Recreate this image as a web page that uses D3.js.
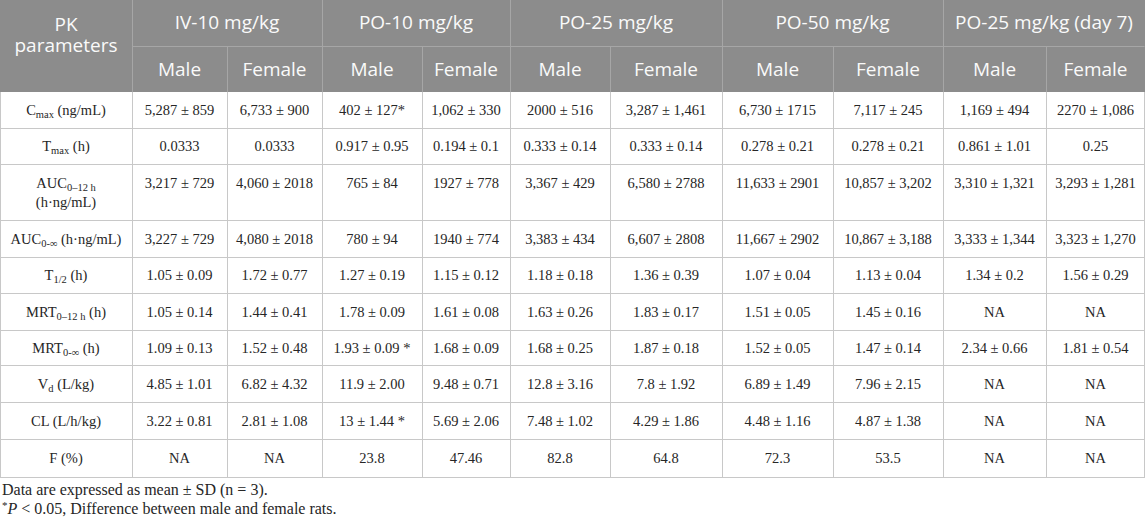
<!DOCTYPE html>
<html>
<head>
<meta charset="utf-8">
<title>PK parameters table</title>
<script src="https://cdn.jsdelivr.net/npm/d3@7"></script>
<style>
    body { margin: 0; background: #fff; }
    .hdr text { font-family: "Open Sans", sans-serif; font-size: 19px; fill: #fafafa; }
    .cell text { font-family: "Liberation Serif", "Times New Roman", serif; font-size: 14.5px; fill: #262626; }
    .note text { font-family: "Liberation Serif", "Times New Roman", serif; font-size: 16px; fill: #262626; }
</style>
</head>
<body>
<script>
// ---- data ----
var groups = ["IV-10 mg/kg", "PO-10 mg/kg", "PO-25 mg/kg", "PO-50 mg/kg", "PO-25 mg/kg (day 7)"];
var sexes = ["Male", "Female"];
var params = [
    "C_{max} (ng/mL)",
    "T_{max} (h)",
    "AUC_{0–12 h}|(h·ng/mL)",
    "AUC_{0-∞} (h·ng/mL)",
    "T_{1/2} (h)",
    "MRT_{0–12 h} (h)",
    "MRT_{0-∞} (h)",
    "V_{d} (L/kg)",
    "CL (L/h/kg)",
    "F (%)"
];
var cmax = ["5,287 ± 859", "6,733 ± 900", "402 ± 127*", "1,062 ± 330", "2000 ± 516", "3,287 ± 1,461", "6,730 ± 1715", "7,117 ± 245", "1,169 ± 494", "2270 ± 1,086"];
var tmax = ["0.0333", "0.0333", "0.917 ± 0.95", "0.194 ± 0.1", "0.333 ± 0.14", "0.333 ± 0.14", "0.278 ± 0.21", "0.278 ± 0.21", "0.861 ± 1.01", "0.25"];
var auc012 = ["3,217 ± 729", "4,060 ± 2018", "765 ± 84", "1927 ± 778", "3,367 ± 429", "6,580 ± 2788", "11,633 ± 2901", "10,857 ± 3,202", "3,310 ± 1,321", "3,293 ± 1,281"];
var aucInf = ["3,227 ± 729", "4,080 ± 2018", "780 ± 94", "1940 ± 774", "3,383 ± 434", "6,607 ± 2808", "11,667 ± 2902", "10,867 ± 3,188", "3,333 ± 1,344", "3,323 ± 1,270"];
var thalf = ["1.05 ± 0.09", "1.72 ± 0.77", "1.27 ± 0.19", "1.15 ± 0.12", "1.18 ± 0.18", "1.36 ± 0.39", "1.07 ± 0.04", "1.13 ± 0.04", "1.34 ± 0.2", "1.56 ± 0.29"];
var mrt012 = ["1.05 ± 0.14", "1.44 ± 0.41", "1.78 ± 0.09", "1.61 ± 0.08", "1.63 ± 0.26", "1.83 ± 0.17", "1.51 ± 0.05", "1.45 ± 0.16", "NA", "NA"];
var mrtInf = ["1.09 ± 0.13", "1.52 ± 0.48", "1.93 ± 0.09 *", "1.68 ± 0.09", "1.68 ± 0.25", "1.87 ± 0.18", "1.52 ± 0.05", "1.47 ± 0.14", "2.34 ± 0.66", "1.81 ± 0.54"];
var vd = ["4.85 ± 1.01", "6.82 ± 4.32", "11.9 ± 2.00", "9.48 ± 0.71", "12.8 ± 3.16", "7.8 ± 1.92", "6.89 ± 1.49", "7.96 ± 2.15", "NA", "NA"];
var cl = ["3.22 ± 0.81", "2.81 ± 1.08", "13 ± 1.44 *", "5.69 ± 2.06", "7.48 ± 1.02", "4.29 ± 1.86", "4.48 ± 1.16", "4.87 ± 1.38", "NA", "NA"];
var fpct = ["NA", "NA", "23.8", "47.46", "82.8", "64.8", "72.3", "53.5", "NA", "NA"];
var rows = [cmax, tmax, auc012, aucInf, thalf, mrt012, mrtInf, vd, cl, fpct];
var notes = ["Data are expressed as mean ± SD (n = 3).", "*P < 0.05, Difference between male and female rats."];

// ---- layout ----
var w = 1145, h = 520;
var colWidths = [132, 95, 95, 100, 88, 100, 112, 111, 110, 103, 99];
var hdrHeights = [46, 46];
var rowHeights = [36, 36, 56, 37, 36, 37, 35, 37, 37, 38];
var colEdges = [0].concat(Array.from(d3.cumsum(colWidths)));
var hdrEdges = [0].concat(Array.from(d3.cumsum(hdrHeights)));
var bodyTop = hdrEdges[2];
var rowEdges = [bodyTop].concat(Array.from(d3.cumsum(rowHeights), function(v) { return v + bodyTop; }));
var tableRight = colEdges[colEdges.length - 1] - 0.5;

var svg = d3.select("body").append("svg")
    .attr("width", w)
    .attr("height", h);

// header background
var hdr = svg.append("g").attr("class", "hdr");
hdr.append("rect")
    .attr("x", 0).attr("y", 0)
    .attr("width", tableRight + 0.5).attr("height", bodyTop)
    .attr("fill", "#8c8c8c");

// header lines
hdr.append("line")
    .attr("x1", colEdges[1]).attr("x2", tableRight)
    .attr("y1", hdrEdges[1] + 0.5).attr("y2", hdrEdges[1] + 0.5)
    .attr("stroke", "#a6a6a6");
colEdges.slice(1, -1).forEach(function(x, i) {
    var groupEdge = (i % 2 === 0);
    hdr.append("line")
        .attr("x1", x + 0.5).attr("x2", x + 0.5)
        .attr("y1", groupEdge ? 0 : hdrEdges[1]).attr("y2", bodyTop)
        .attr("stroke", "#a6a6a6");
});

// header text
hdr.selectAll("text.pk")
    .data(["PK", "parameters"])
    .enter().append("text")
    .attr("class", "pk")
    .attr("x", colEdges[1] / 2)
    .attr("y", function(d, i) { return 31 + i * 21; })
    .attr("text-anchor", "middle")
    .text(function(d) { return d; });

hdr.selectAll("text.grp")
    .data(groups)
    .enter().append("text")
    .attr("class", "grp")
    .attr("x", function(d, i) { return (colEdges[1 + i * 2] + colEdges[3 + i * 2]) / 2; })
    .attr("y", hdrEdges[1] / 2 + 6)
    .attr("text-anchor", "middle")
    .text(function(d) { return d; });

var sub = d3.range(groups.length * 2);
hdr.selectAll("text.sex")
    .data(sub)
    .enter().append("text")
    .attr("class", "sex")
    .attr("x", function(i) { return (colEdges[1 + i] + colEdges[2 + i]) / 2; })
    .attr("y", (hdrEdges[1] + hdrEdges[2]) / 2 + 7)
    .attr("text-anchor", "middle")
    .text(function(i) { return sexes[i % 2]; });

// body grid
var grid = svg.append("g");
rowEdges.slice(1).forEach(function(y) {
    grid.append("line")
        .attr("x1", 0).attr("x2", tableRight + 0.5)
        .attr("y1", y + 0.5).attr("y2", y + 0.5)
        .attr("stroke", "#c8c8c8");
});
colEdges.forEach(function(x, i) {
    var xx = (i === colEdges.length - 1) ? tableRight : x + 0.5;
    grid.append("line")
        .attr("x1", xx).attr("x2", xx)
        .attr("y1", bodyTop).attr("y2", rowEdges[rowEdges.length - 1] + 1)
        .attr("stroke", "#c8c8c8");
});

// write a label with _{sub} markup into a text element
function writeRich(textSel, str) {
    var parts = str.split(/(_\{[^}]*\})/).filter(function(p) { return p; });
    var shift = 0;
    parts.forEach(function(p) {
        if (p.indexOf("_{") === 0) {
            textSel.append("tspan")
                .attr("font-size", "10.5px")
                .attr("dy", 3)
                .text(p.slice(2, -1));
            shift = -3;
        } else {
            textSel.append("tspan")
                .attr("dy", shift)
                .text(p);
            shift = 0;
        }
    });
}

// body text
var cells = svg.append("g").attr("class", "cell");
params.forEach(function(label, r) {
    var y0 = rowEdges[r], y1 = rowEdges[r + 1];
    var lines = label.split("|");
    var tall = lines.length > 1;
    var baseY = tall ? y0 + 24 : (y0 + y1) / 2 + 5;
    lines.forEach(function(ln, k) {
        var t = cells.append("text")
            .attr("x", colEdges[1] / 2)
            .attr("y", baseY + k * 19)
            .attr("text-anchor", "middle");
        writeRich(t, ln);
    });
    cells.selectAll(null)
        .data(rows[r])
        .enter().append("text")
        .attr("x", function(d, i) { return (colEdges[1 + i] + colEdges[2 + i]) / 2; })
        .attr("y", baseY)
        .attr("text-anchor", "middle")
        .text(function(d) { return d; });
});

// footnotes
var note = svg.append("g").attr("class", "note");
var tableBottom = rowEdges[rowEdges.length - 1];
note.append("text")
    .attr("x", 2).attr("y", tableBottom + 18)
    .text(notes[0]);
var n2 = note.append("text")
    .attr("x", 2).attr("y", tableBottom + 37);
n2.append("tspan").attr("font-size", "11px").attr("dy", -5).text("*");
n2.append("tspan").attr("font-style", "italic").attr("dy", 5).text("P");
n2.append("tspan").text(notes[1].slice(2));
</script>
</body>
</html>
